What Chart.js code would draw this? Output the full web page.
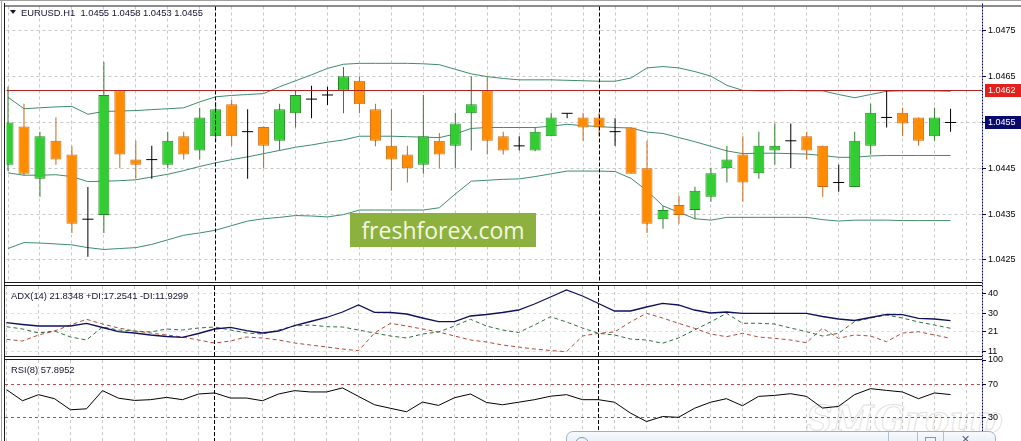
<!DOCTYPE html>
<html><head><meta charset="utf-8">
<script src="https://cdn.jsdelivr.net/npm/chart.js@4.4.1/dist/chart.umd.min.js"></script>
<style>
html,body{margin:0;padding:0;background:#fff;}
#wrap{position:relative;width:1021px;height:441px;overflow:hidden;background:#fff;font-family:"Liberation Sans",Arial,sans-serif;}
canvas{position:absolute;left:0;top:0;}
.lbl{position:absolute;font-size:9.4px;line-height:1;color:#141430;white-space:pre;}
</style></head><body>
<div id="wrap">
<div style="position:absolute;left:806px;top:401px;font-family:'DejaVu Serif',serif;font-style:italic;font-weight:bold;font-size:37px;line-height:1;color:rgba(255,255,255,0.6);-webkit-text-stroke:1px rgba(200,200,200,0.55);white-space:pre;">SMGroup</div>
<canvas id="cMain" width="1021" height="441"></canvas>
<canvas id="cAdx" width="1021" height="441"></canvas>
<canvas id="cRsi" width="1021" height="441"></canvas>
<div style="position:absolute;left:10px;top:10px;width:0;height:0;border-left:3px solid transparent;border-right:3px solid transparent;border-top:4px solid #141430;"></div>
<div class="lbl" style="left:21px;top:7.5px;">EURUSD.H1  1.0455 1.0458 1.0453 1.0455</div>
<div class="lbl" style="left:11px;top:291px;">ADX(14) 21.8348 +DI:17.2541 -DI:11.9299</div>
<div class="lbl" style="left:11px;top:364.5px;">RSI(8) 57.8952</div>
<div style="position:absolute;left:350px;top:213px;width:186px;height:34px;background:#8db13f;color:#f4f7e0;font-family:'Open Sans',sans-serif;font-size:23px;line-height:34px;text-align:center;">freshforex.com</div>
<div style="position:absolute;left:566px;top:431px;width:430px;height:22px;box-sizing:border-box;border:1px solid #9fb0c6;border-radius:7px 7px 0 0;background:linear-gradient(#f7fafd,#dde7f2);">
  <div style="position:absolute;left:8px;top:5px;width:12px;height:12px;border:1px solid #8494aa;border-radius:50%;"></div>
  <div style="position:absolute;left:321px;top:0;width:1px;height:22px;background:#b4c0d0;"></div>
  <div style="position:absolute;left:350px;top:0;width:1px;height:22px;background:#b4c0d0;"></div>
  <div style="position:absolute;left:376px;top:0;width:1px;height:22px;background:#b4c0d0;"></div>
  <div style="position:absolute;left:358px;top:5px;width:9px;height:8px;border:1px solid #8a96a8;"></div>
  <div style="position:absolute;left:394px;top:1px;font-size:11px;color:#5a6274;font-family:'DejaVu Sans',sans-serif;">✕</div>
</div>
</div>
<script>
// ---------- data ----------
const opens  = [1.04458,1.04541,1.04427,1.04510,1.04480,1.04339,1.04348,1.04620,1.04469,1.04469,
                1.04458,1.04520,1.04489,1.04520,1.04590,1.04530,1.04540,1.04510,1.04570,1.04601,
                1.04610,1.04620,1.04641,1.04579,1.04499,1.04480,1.04458,1.04510,1.04499,1.04570,
                1.04620,1.04520,1.04499,1.04489,1.04520,1.04570,1.04561,1.04561,1.04530,1.04539,
                1.04450,1.04339,1.04370,1.04359,1.04388,1.04450,1.04480,1.04439,1.04489,1.04510,
                1.04520,1.04499,1.04419,1.04409,1.04499,1.04561,1.04571,1.04561,1.04520,1.04550];
const highs  = [1.04628,1.04591,1.04530,1.04561,1.04498,1.04409,1.04682,1.04621,1.04510,1.04499,
                1.04530,1.04530,1.04582,1.04594,1.04599,1.04579,1.04541,1.04591,1.04620,1.04630,
                1.04628,1.04671,1.04651,1.04591,1.04579,1.04499,1.04610,1.04527,1.04571,1.04651,
                1.04651,1.04530,1.04520,1.04539,1.04571,1.04570,1.04571,1.04571,1.04559,1.04539,
                1.04510,1.04368,1.04390,1.04410,1.04451,1.04499,1.04520,1.04530,1.04548,1.04548,
                1.04530,1.04499,1.04458,1.04530,1.04591,1.04620,1.04582,1.04561,1.04582,1.04580];
const lows   = [1.04444,1.04433,1.04388,1.04458,1.04309,1.04257,1.04309,1.04450,1.04427,1.04427,
                1.04450,1.04469,1.04469,1.04509,1.04499,1.04427,1.04450,1.04489,1.04539,1.04559,
                1.04588,1.04570,1.04570,1.04498,1.04401,1.04419,1.04438,1.04450,1.04450,1.04489,
                1.04480,1.04480,1.04489,1.04487,1.04520,1.04559,1.04510,1.04520,1.04499,1.04438,
                1.04309,1.04318,1.04329,1.04339,1.04377,1.04419,1.04377,1.04427,1.04458,1.04450,
                1.04469,1.04388,1.04399,1.04409,1.04480,1.04539,1.04520,1.04499,1.04510,1.04530];
const closes = [1.04550,1.04438,1.04520,1.04469,1.04329,1.04339,1.04610,1.04480,1.04458,1.04469,
                1.04510,1.04480,1.04561,1.04579,1.04520,1.04530,1.04499,1.04579,1.04610,1.04601,
                1.04610,1.04651,1.04590,1.04510,1.04469,1.04450,1.04520,1.04480,1.04548,1.04590,
                1.04510,1.04489,1.04499,1.04530,1.04561,1.04570,1.04539,1.04539,1.04530,1.04438,
                1.04329,1.04359,1.04348,1.04401,1.04439,1.04469,1.04419,1.04499,1.04499,1.04510,
                1.04489,1.04409,1.04419,1.04510,1.04571,1.04561,1.04548,1.04510,1.04561,1.04550];
const bbUpper = [1.04605,1.04580,1.04582,1.04584,1.04585,1.04568,1.04574,1.04575,1.04576,1.04578,
                 1.04580,1.04582,1.04595,1.04606,1.04609,1.04611,1.04613,1.04628,1.04641,1.04654,
                 1.04668,1.04677,1.04679,1.04679,1.04679,1.04679,1.04678,1.04676,1.04666,1.04656,
                 1.04650,1.04646,1.04643,1.04643,1.04643,1.04642,1.04641,1.04640,1.04640,1.04647,
                 1.04669,1.04672,1.04669,1.04661,1.04651,1.04631,1.04620,1.04619,1.04619,1.04620,
                 1.04619,1.04619,1.04611,1.04604,1.04611,1.04618,1.04619,1.04619,1.04619,1.04618];
const bbMiddle = [1.04440,1.04435,1.04435,1.04436,1.04432,1.04421,1.04422,1.04423,1.04425,1.04431,
                  1.04437,1.04445,1.04454,1.04462,1.04469,1.04475,1.04482,1.04489,1.04496,1.04501,
                  1.04507,1.04512,1.04520,1.04520,1.04520,1.04519,1.04518,1.04517,1.04525,1.04537,
                  1.04539,1.04539,1.04539,1.04539,1.04542,1.04546,1.04543,1.04541,1.04539,1.04538,
                  1.04529,1.04526,1.04517,1.04508,1.04498,1.04488,1.04482,1.04483,1.04483,1.04482,
                  1.04481,1.04478,1.04474,1.04474,1.04477,1.04478,1.04478,1.04478,1.04478,1.04478];
const bbLower = [1.04275,1.04288,1.04287,1.04285,1.04283,1.04277,1.04273,1.04275,1.04277,1.04284,
                 1.04294,1.04304,1.04309,1.04315,1.04325,1.04335,1.04340,1.04343,1.04347,1.04346,
                 1.04344,1.04349,1.04359,1.04359,1.04359,1.04359,1.04359,1.04364,1.04394,1.04422,
                 1.04424,1.04426,1.04427,1.04432,1.04438,1.04444,1.04444,1.04444,1.04443,1.04428,
                 1.04401,1.04368,1.04354,1.04340,1.04337,1.04343,1.04343,1.04343,1.04343,1.04343,
                 1.04343,1.04338,1.04335,1.04337,1.04337,1.04337,1.04336,1.04336,1.04336,1.04336];
const adxMain = [25.3,24.4,23.65,23.65,23.65,25.0,22.9,20.8,20.15,19.15,
                 18.4,18.0,19.9,22.15,23.0,21.3,20.15,21.15,23.9,25.9,
                 27.9,30.65,34.15,30.5,30.4,29.65,27.65,25.8,25.8,28.65,
                 29.4,30.4,31.65,34.65,38.15,41.65,38.65,34.9,31.15,31.15,
                 33.15,35.0,34.15,31.65,30.15,30.65,30.0,30.0,30.0,30.0,
                 30.0,28.4,27.15,26.4,27.9,29.5,29.3,27.5,27.15,26.3];
const plusDI = [23.3,22.15,20.15,21.15,18.15,16.65,23.15,21.65,21.15,20.65,
                22.15,21.65,22.65,23.15,21.65,20.15,19.65,21.65,23.65,24.15,
                23.3,23.15,21.65,20.15,18.65,17.65,19.65,20.65,23.65,27.0,
                23.65,21.65,20.4,24.15,28.3,25.65,22.65,20.0,19.15,17.15,
                16.65,15.0,17.65,21.65,25.65,30.0,25.0,25.0,24.65,22.65,
                20.8,18.65,20.0,25.8,27.65,29.15,27.65,25.65,24.15,22.5];
const minusDI = [17.0,16.15,19.15,21.15,24.15,27.0,24.65,22.65,21.15,20.15,
                 19.15,18.15,16.65,15.15,16.15,18.15,17.65,16.65,15.15,14.15,
                 13.15,12.15,11.3,20.15,25.0,23.65,22.15,20.65,18.65,16.65,
                 15.65,14.15,13.15,12.15,11.4,10.8,18.65,20.0,20.65,25.65,
                 30.0,27.65,25.0,22.5,19.65,18.3,20.0,18.15,17.5,16.65,
                 15.3,22.5,17.5,19.15,18.65,15.8,20.15,20.8,19.15,17.5];
const rsiValues = [63.9,50.4,57.8,52.9,39.4,40.6,62.7,53.5,50.8,51.7,
                   54.5,51.7,58.6,59.9,53.7,53.7,50.4,58.6,62.7,61.1,
                   61.1,66.0,55.7,45.5,41.2,37.0,48.8,44.7,54.1,58.6,
                   48.3,45.5,48.6,51.7,55.9,57.8,51.7,51.7,48.6,35.4,
                   25.1,31.2,30.2,41.2,48.6,52.9,44.3,55.7,56.9,59.0,
                   55.7,41.5,43.5,57.8,65.1,63.0,61.1,52.9,59.9,57.9];
const priceTicks = [1.0425,1.0435,1.0445,1.0455,1.0465,1.0475];
const adxTicks = [40,30,21,11];
const rsiTicks = [100,70,30];
const rsiLevels = [70,30];
const hLinePrice = 1.0462;
const bidPrice = 1.0455;
const daySeparators = [13,37];

// ---------- helpers ----------
const FONT = '"Liberation Sans", Arial, sans-serif';
const GRID = '#c8c8c8';
const X_MIN = -0.094, X_MAX = 60.969;
const idx = opens.map((_, i) => i);
const kind = i => closes[i] > opens[i] ? 'up' : (closes[i] < opens[i] ? 'down' : 'doji');
const wickCol = {up:'#2f7f2f', down:'#c8661a', doji:'#000000'};
const bodyFill = {up:'#32cd32', down:'#ff8c00'};
const bodyEdge = {up:'#238a23', down:'#cf6a10'};
const bodyIdx = idx.filter(i => kind(i) !== 'doji');
const dojiIdx = idx.filter(i => kind(i) === 'doji');
const pts = arr => arr.map((v, i) => ({x:i, y:v}));

function xScale(){
  return { type:'linear', min:X_MIN, max:X_MAX, offset:false, bounds:'data',
    afterBuildTicks(s){ const t=[]; for(let v=0; v<=X_MAX; v+=2) t.push({value:v}); s.ticks=t; },
    afterFit(s){ s.height=0; s.paddingLeft=0; s.paddingRight=0; s.paddingTop=0; s.paddingBottom=0; },
    ticks:{display:false}, grid:{color:GRID, drawTicks:false, offset:false, lineWidth:1},
    border:{display:false, dash:[3,3]} };
}
function yScale(min, max, ticks, fmt, gridColor){
  return { type:'linear', position:'right', min, max, bounds:'data',
    afterBuildTicks(s){ s.ticks = ticks.map(v => ({value:v})); },
    afterFit(s){ s.width=39; s.paddingTop=0; s.paddingBottom=0; },
    ticks:{ font:{family:FONT, size:9}, color:'#000', padding:2, callback:fmt, autoSkip:false },
    grid:{ color:gridColor || GRID, tickLength:4, tickColor:'#000060', tickWidth:1, tickBorderDash:[], offset:false },
    border:{ display:false, dash:[3,3] } };
}
function makeDecor(cfg){
  return {
    id:'decor',
    afterDatasetsDraw(chart){
      const {ctx, chartArea:a, scales} = chart;
      ctx.save();
      ctx.lineWidth = 1;
      if (cfg.hLine !== undefined){
        const y = Math.round(scales.y.getPixelForValue(cfg.hLine)) + 0.5;
        ctx.strokeStyle = '#b22222'; ctx.setLineDash([]);
        ctx.beginPath(); ctx.moveTo(a.left, y); ctx.lineTo(a.right, y); ctx.stroke();
      }
      ctx.strokeStyle = '#000'; ctx.setLineDash([4,2]);
      daySeparators.forEach(v => {
        const x = Math.floor(scales.x.getPixelForValue(v)) + 0.5;
        ctx.beginPath(); ctx.moveTo(x, a.top); ctx.lineTo(x, a.bottom); ctx.stroke();
      });
      ctx.restore();
    },
    afterDraw(chart){
      const {ctx, chartArea:a, scales} = chart;
      ctx.save();
      ctx.lineWidth = 1; ctx.setLineDash([]);
      ctx.strokeStyle = '#1a1a1a';
      ctx.beginPath();
      ctx.moveTo(4.5, a.top - 0.5); ctx.lineTo(cfg.fullTop ? 1021 : a.right, a.top - 0.5);
      ctx.moveTo(4.5, a.bottom + 0.5); ctx.lineTo(a.right, a.bottom + 0.5);
      ctx.stroke();
      if (cfg.frame){
        ctx.strokeStyle = '#a0a0a0';
        ctx.beginPath(); ctx.moveTo(0, 0.5); ctx.lineTo(1021, 0.5); ctx.moveTo(1.5, 0); ctx.lineTo(1.5, 441); ctx.stroke();
        ctx.strokeStyle = '#1a1a1a';
        ctx.beginPath(); ctx.moveTo(4.5, 3); ctx.lineTo(4.5, 441); ctx.stroke();
        ctx.strokeStyle = '#000070'; ctx.setLineDash([2,1]);
        ctx.beginPath(); ctx.moveTo(982.5, 3.5); ctx.lineTo(982.5, 441); ctx.stroke();
        ctx.setLineDash([]);
      }
      if (cfg.boxes){
        ctx.font = '9px ' + FONT; ctx.textBaseline = 'middle'; ctx.textAlign = 'left';
        cfg.boxes.forEach(b => {
          const y = scales.y.getPixelForValue(b.value);
          ctx.fillStyle = b.bg; ctx.fillRect(985, Math.round(y) - 6, 36, 13);
          ctx.fillStyle = '#fff'; ctx.fillText(b.value.toFixed(4), 988, Math.round(y) + 0.5);
        });
      }
      ctx.restore();
    }
  };
}
const common = (padding) => ({
  responsive:false, animation:false, devicePixelRatio:1, events:[],
  layout:{padding},
  plugins:{legend:{display:false}, tooltip:{enabled:false}}
});

// ---------- main price pane ----------
new Chart(document.getElementById('cMain'), {
  type:'line',
  data:{ datasets:[
    { type:'bar', label:'body', order:0, grouped:false, clip:0, barThickness:11, borderWidth:1, borderSkipped:false, inflateAmount:0,
      data: bodyIdx.map(i => ({x:i, y:[opens[i], closes[i]]})),
      backgroundColor: bodyIdx.map(i => bodyFill[kind(i)]),
      borderColor: bodyIdx.map(i => bodyEdge[kind(i)]) },
    { type:'line', label:'doji', order:1, showLine:false, clip:0,
      data: dojiIdx.map(i => ({x:i, y:closes[i]})),
      pointStyle:'line', pointRadius:5.5, pointBorderWidth:1, pointBorderColor:'#000', pointBackgroundColor:'#000' },
    { type:'bar', label:'wick', order:2, grouped:false, clip:0, barThickness:1, borderWidth:0, inflateAmount:0,
      data: idx.map(i => ({x:i, y:[lows[i], highs[i]]})),
      backgroundColor: idx.map(i => wickCol[kind(i)]) },
    { label:'BB upper', order:3, data:pts(bbUpper), borderColor:'#3f8c6b', borderWidth:1, pointRadius:0, tension:0 },
    { label:'BB middle', order:3, data:pts(bbMiddle), borderColor:'#3f8c6b', borderWidth:1, pointRadius:0, tension:0 },
    { label:'BB lower', order:3, data:pts(bbLower), borderColor:'#3f8c6b', borderWidth:1, pointRadius:0, tension:0 }
  ]},
  options: Object.assign(common({left:5, top:4, right:0, bottom:159}), {
    scales:{ x:xScale(), y:yScale(1.04202, 1.04803, priceTicks, v => Number(v).toFixed(4)) }
  }),
  plugins:[makeDecor({hLine:hLinePrice, frame:true, fullTop:true,
    boxes:[{value:hLinePrice, bg:'#e3201c'}, {value:bidPrice, bg:'#0a0a6e'}]})]
});

// ---------- ADX pane ----------
new Chart(document.getElementById('cAdx'), {
  type:'line',
  data:{ datasets:[
    { label:'ADX', data:pts(adxMain), borderColor:'#101060', borderWidth:1.3, pointRadius:0, tension:0 },
    { label:'+DI', data:pts(plusDI), borderColor:'#2f6f3f', borderWidth:1, borderDash:[4,3], pointRadius:0, tension:0 },
    { label:'-DI', data:pts(minusDI), borderColor:'#b04a3a', borderWidth:1, borderDash:[4,3], pointRadius:0, tension:0 }
  ]},
  options: Object.assign(common({left:5, top:286, right:0, bottom:85}), {
    scales:{ x:xScale(), y:yScale(8.65, 43.65, adxTicks, v => String(v), '#e0e0e0') }
  }),
  plugins:[makeDecor({})]
});

// ---------- RSI pane ----------
new Chart(document.getElementById('cRsi'), {
  type:'line',
  data:{ datasets:[
    { label:'RSI', data:pts(rsiValues), borderColor:'#000', borderWidth:1, pointRadius:0, tension:0 }
  ]},
  options: Object.assign(common({left:5, top:360, right:0, bottom:0}), {
    scales:{ x:xScale(), y:yScale(1.4, 100, rsiTicks, v => String(v),
      c => (c.tick && rsiLevels.includes(c.tick.value)) ? '#b0504a' : 'rgba(0,0,0,0)') }
  }),
  plugins:[makeDecor({})]
});
</script>
</body></html>
